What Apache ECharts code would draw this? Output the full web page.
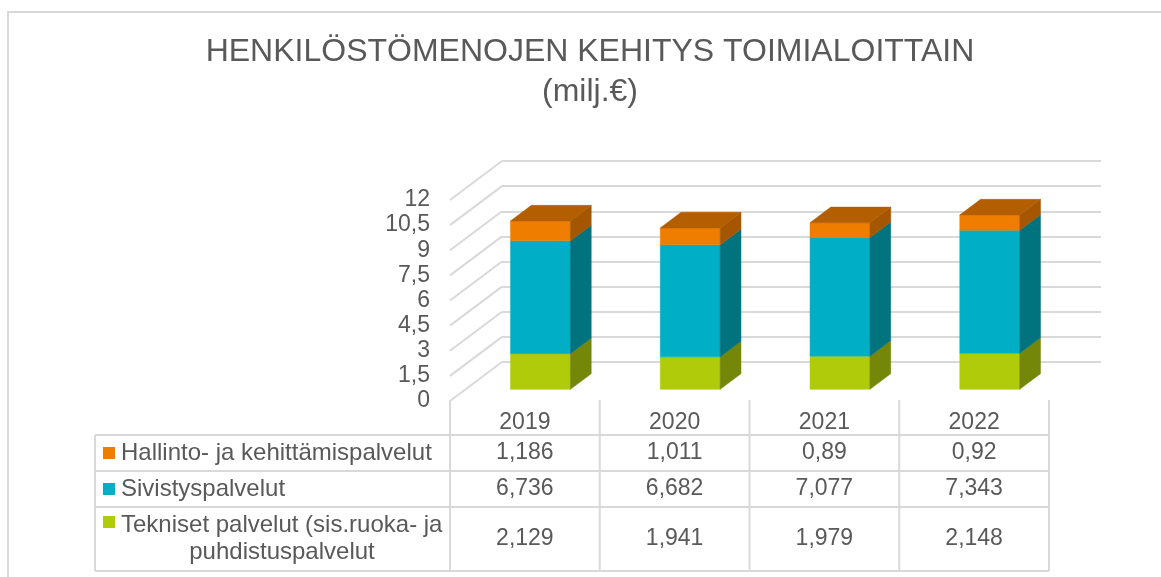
<!DOCTYPE html>
<html>
<head>
<meta charset="utf-8">
<script src="https://cdn.jsdelivr.net/npm/echarts@6/dist/echarts.min.js"></script>
<style>
  html, body { margin: 0; padding: 0; background: #fff; }
  #chart { width: 1161px; height: 577px; }
</style>
</head>
<body>
<div id="chart"></div>
<script>
// data
var years = ["2019", "2020", "2021", "2022"];
var hallinto = [1.186, 1.011, 0.89, 0.92];
var sivistys = [6.736, 6.682, 7.077, 7.343];
var tekniset = [2.129, 1.941, 1.979, 2.148];
var yTicks = [0, 1.5, 3, 4.5, 6, 7.5, 9, 10.5, 12];

var nameHallinto = "Hallinto- ja kehittämispalvelut";
var nameSivistys = "Sivistyspalvelut";
var nameTekniset = "Tekniset palvelut (sis.ruoka- ja\npuhdistuspalvelut";

// 3d look
var DX = 52, DY = -39;          // front plane -> back wall
var D_FRONT = 0.3, D_BACK = 0.7; // bar depth inside the box
var BAR_RATIO = 0.4;
var TXT = "#595959";
var LINE = "#D9D9D9";
var FONT = "'Liberation Sans', Arial, sans-serif";

// bottom -> top
var stack = [
  { name: nameTekniset, values: tekniset, front: "#AFCB0A", side: "#748708", top: "#8FA508" },
  { name: nameSivistys, values: sivistys, front: "#00AEC6", side: "#00737F", top: "#008C9E" },
  { name: nameHallinto, values: hallinto, front: "#EE7D00", side: "#A45600", top: "#B35E00" }
];

function fmt(v) {
  return String(v).replace(".", ",");
}

function barData(k) {
  return years.map(function (y, i) {
    var base = 0;
    for (var j = 0; j < k; j++) base += stack[j].values[i];
    return [i, base, base + stack[k].values[i]];
  });
}

function makeBarRender(k) {
  var s = stack[k];
  var isTop = k === stack.length - 1;
  return function (params, api) {
    var p0 = api.coord([api.value(0), api.value(1)]);
    var p1 = api.coord([api.value(0), api.value(2)]);
    var w = api.size([1, 0])[0] * BAR_RATIO;
    var ox = DX * D_FRONT, oy = DY * D_FRONT;
    var sx = DX * (D_BACK - D_FRONT), sy = DY * (D_BACK - D_FRONT);
    var xl = p0[0] - w / 2 + ox, xr = p0[0] + w / 2 + ox;
    var yb = p0[1] + oy, yt = p1[1] + oy;
    var kids = [
      {
        type: "polygon",
        shape: { points: [[xl, yb], [xr, yb], [xr, yt], [xl, yt]] },
        style: { fill: s.front, stroke: s.front, lineWidth: 0.5 }
      },
      {
        type: "polygon",
        shape: { points: [[xr, yb], [xr + sx, yb + sy], [xr + sx, yt + sy], [xr, yt]] },
        style: { fill: s.side, stroke: s.side, lineWidth: 0.5 }
      }
    ];
    if (isTop) {
      kids.push({
        type: "polygon",
        shape: { points: [[xl, yt], [xr, yt], [xr + sx, yt + sy], [xl + sx, yt + sy]] },
        style: { fill: s.top, stroke: s.top, lineWidth: 0.5 }
      });
    }
    return { type: "group", children: kids };
  };
}

var chart = echarts.init(document.getElementById("chart"));

var series = [
  {
    // lines on the left wall
    type: "custom",
    xAxisIndex: 0,
    yAxisIndex: 0,
    silent: true,
    data: yTicks.map(function (t) { return [0, t]; }),
    encode: { x: 0, y: 1 },
    renderItem: function (params, api) {
      var y = api.coord([0, api.value(1)])[1];
      var x0 = params.coordSys.x;
      return {
        type: "line",
        shape: { x1: x0, y1: y, x2: x0 + DX, y2: y + DY },
        style: { stroke: LINE, lineWidth: 2 }
      };
    }
  }
];

stack.forEach(function (s, k) {
  series.push({
    name: s.name,
    type: "custom",
    xAxisIndex: 0,
    yAxisIndex: 0,
    data: barData(k),
    encode: { x: 0, y: [1, 2] },
    renderItem: makeBarRender(k)
  });
});

var option = {
  backgroundColor: "#fff",
  animation: false,
  textStyle: { fontFamily: FONT },
  grid: [
    // front plane
    { left: 450, right: 112, top: 200, bottom: 176 },
    // back wall
    { left: 502, right: 60, top: 161, bottom: 215 }
  ],
  xAxis: [
    {
      type: "category",
      gridIndex: 0,
      data: years,
      axisLine: { show: false },
      axisTick: { show: false },
      axisLabel: { color: TXT, fontSize: 23, margin: 10, fontFamily: FONT }
    },
    {
      type: "category",
      gridIndex: 1,
      data: years,
      show: false
    }
  ],
  yAxis: [
    {
      type: "value",
      gridIndex: 0,
      min: 0,
      max: 12,
      interval: 1.5,
      axisLine: { show: false },
      axisTick: { show: false },
      splitLine: { show: false },
      axisLabel: {
        color: TXT,
        fontSize: 23,
        margin: 20,
        hideOverlap: false,
        fontFamily: FONT,
        padding: [3, 0, 0, 0],
        formatter: function (v) { return fmt(v); }
      }
    },
    {
      type: "value",
      gridIndex: 1,
      min: 0,
      max: 12,
      interval: 1.5,
      axisLine: { show: false },
      axisTick: { show: false },
      axisLabel: { show: false },
      splitLine: { show: true, lineStyle: { color: LINE, width: 2 } }
    }
  ],
  series: series
};

chart.setOption(option);

// title, frame and data table
var g = [];
g.push({
  type: "rect",
  shape: { x: 8, y: 12, width: 1300, height: 700 },
  style: { fill: null, stroke: LINE, lineWidth: 2 },
  silent: true
});
g.push({
  type: "text",
  x: 590,
  y: 72,
  style: {
    text: "HENKILÖSTÖMENOJEN KEHITYS TOIMIALOITTAIN\n(milj.€)",
    fill: TXT,
    font: "32px " + FONT,
    align: "center",
    verticalAlign: "middle",
    lineHeight: 40
  }
});

var colX = years.map(function (y, i) {
  return chart.convertToPixel({ gridIndex: 0 }, [i, 0])[0];
});
var band = colX[1] - colX[0];
var tLeft = 95;
var tRight = colX[colX.length - 1] + band / 2;
var rowsY = [435, 471, 507, 571];
var headTop = 400;

function hline(y, x1, x2) {
  g.push({ type: "line", shape: { x1: x1, y1: y, x2: x2, y2: y }, style: { stroke: LINE, lineWidth: 2 }, silent: true });
}
function vline(x, y1, y2) {
  g.push({ type: "line", shape: { x1: x, y1: y1, x2: x, y2: y2 }, style: { stroke: LINE, lineWidth: 2 }, silent: true });
}

rowsY.forEach(function (y) { hline(y, tLeft, tRight); });
vline(tLeft, rowsY[0], rowsY[rowsY.length - 1]);
for (var c = 0; c <= years.length; c++) {
  vline(colX[0] - band / 2 + c * band, headTop, rowsY[rowsY.length - 1]);
}

// table rows: top -> bottom
var rows = [stack[2], stack[1], stack[0]];
rows.forEach(function (s, r) {
  var y0 = rowsY[r], y1 = rowsY[r + 1];
  var cy = (y0 + y1) / 2;
  var lines = s.name.split("\n");
  var firstLineY = lines.length > 1 ? cy - 14 : cy;
  g.push({
    type: "rect",
    shape: { x: 103, y: firstLineY - 6 - (lines.length > 1 ? 3 : 0), width: 12, height: 12 },
    style: { fill: s.front }
  });
  g.push({
    type: "text",
    x: 121,
    y: firstLineY,
    style: { text: lines[0], fill: TXT, font: "24px " + FONT, align: "left", verticalAlign: "middle" }
  });
  if (lines.length > 1) {
    // wrapped part sits centred under the first line
    g.push({
      type: "text",
      x: 282,
      y: cy + 13,
      style: { text: lines[1], fill: TXT, font: "24px " + FONT, align: "center", verticalAlign: "middle" }
    });
  }
  s.values.forEach(function (v, i) {
    g.push({
      type: "text",
      x: colX[i],
      y: cy,
      style: { text: fmt(v), fill: TXT, font: "23px " + FONT, align: "center", verticalAlign: "middle" }
    });
  });
});

chart.setOption({ graphic: g });
</script>
</body>
</html>
